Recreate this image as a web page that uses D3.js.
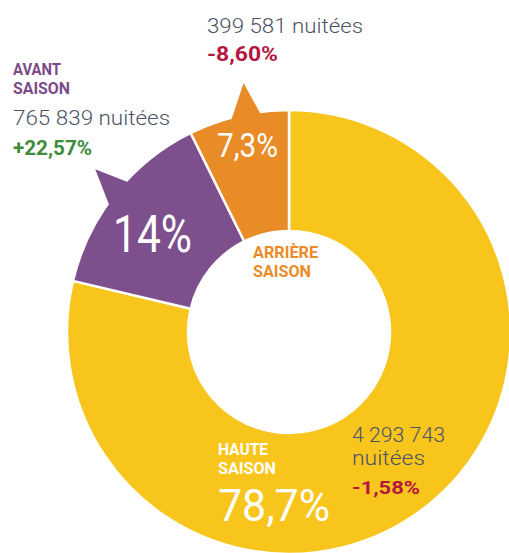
<!DOCTYPE html>
<html>
<head>
<meta charset="utf-8">
<script src="https://cdn.jsdelivr.net/npm/d3@7"></script>
<style>
  body { margin: 0; background: #fff; }
  svg { display: block; }
  text { font-family: Roboto, "Noto Sans", sans-serif; }
</style>
</head>
<body>
<svg id="chart" width="509" height="553"></svg>
<script>
// les saisons, dans l'ordre du camembert (départ en haut, sens horaire)
const seasons = ["HAUTE SAISON", "AVANT SAISON", "ARRIÈRE SAISON"];
const shares = [78.7, 14, 7.3];
const shareLabels = ["78,7%", "14%", "7,3%"];
const nights = ["4 293 743", "765 839", "399 581"];
const changes = ["-1,58%", "+22,57%", "-8,60%"];

const colors = ["#f8c51c", "#7e4f8d", "#e98b27"];
const textGray = "#4c5366";
const red = "#b4173f";
const green = "#3d8b3b";

const svg = d3.select("#chart");
const cx = 289, cy = 332;
const rIn = 101, rOut = 222;

const pie = d3.pie().sort(null).value(d => d).startAngle(0).endAngle(2 * Math.PI);
const arc = d3.arc().innerRadius(rIn).outerRadius(rOut);
const arcs = pie(shares);

const g = svg.append("g").attr("transform", `translate(${cx},${cy})`);

g.selectAll("path.slice")
  .data(arcs)
  .enter()
  .append("path")
  .attr("class", "slice")
  .attr("d", arc)
  .attr("fill", (d, i) => colors[i])
  .attr("stroke", "#fff")
  .attr("stroke-width", 2.5);

// petites flèches qui pointent vers les étiquettes (avant et arrière saison)
const rad = deg => deg * Math.PI / 180;
const pt = (a, r) => [r * Math.sin(a), -r * Math.cos(a)];
const arrowTilt = [0, 0.5, 1.8];

g.selectAll("path.arrow")
  .data(arcs.slice(1))
  .enter()
  .append("path")
  .attr("class", "arrow")
  .attr("fill", (d, i) => colors[i + 1])
  .attr("d", (d, i) => {
    const mid = (d.startAngle + d.endAngle) / 2 + rad(arrowTilt[i + 1]);
    const p = [pt(mid - rad(4), rOut - 3), pt(mid + rad(1), rOut + 31), pt(mid + rad(4), rOut - 3)];
    return d3.line()(p) + "Z";
  });

// helper pour le texte
function label(x, y, txt, size, weight, fill, len) {
  const t = svg.append("text")
    .attr("x", x)
    .attr("y", y)
    .attr("font-size", size)
    .attr("font-weight", weight)
    .attr("fill", fill)
    .text(txt);
  if (len) t.attr("textLength", len).attr("lengthAdjust", "spacingAndGlyphs");
  return t;
}

const [haute, avant, arriere] = seasons.map(s => s.split(" "));

// arrière saison (en haut)
label(207, 33, nights[2] + " nuitées", 21, 300, textGray, 156);
label(207, 61, changes[2], 20, 700, red, 71);

// avant saison (à gauche)
label(13, 75, avant[0], 17, 700, "#7a4a89", 48);
label(13, 94, avant[1], 17, 700, "#7a4a89", 57);
label(13, 125, nights[1] + " nuitées", 21, 300, textGray, 157);
label(13, 155, changes[1], 20, 700, green, 79);

// haute saison (en bas à droite)
label(352, 442, nights[0], 20, 300, textGray, 93);
label(352, 465, "nuitées", 21, 300, textGray, 73);
label(352, 494, changes[0], 19, 700, red, 68);

// dans le donut
label(218, 455, haute[0], 17, 700, "#fff", 50);
label(218, 474, haute[1], 17, 700, "#fff", 58);
label(218, 521, shareLabels[0], 45, 400, "#fff", 112);

label(113, 252, shareLabels[1], 51, 400, "#fff", 79);
label(217, 157, shareLabels[2], 33, 400, "#fff", 61);

label(253, 258, arriere[0], 16, 700, colors[2], 65);
label(253, 277, arriere[1], 17, 700, colors[2], 58);
</script>
</body>
</html>
